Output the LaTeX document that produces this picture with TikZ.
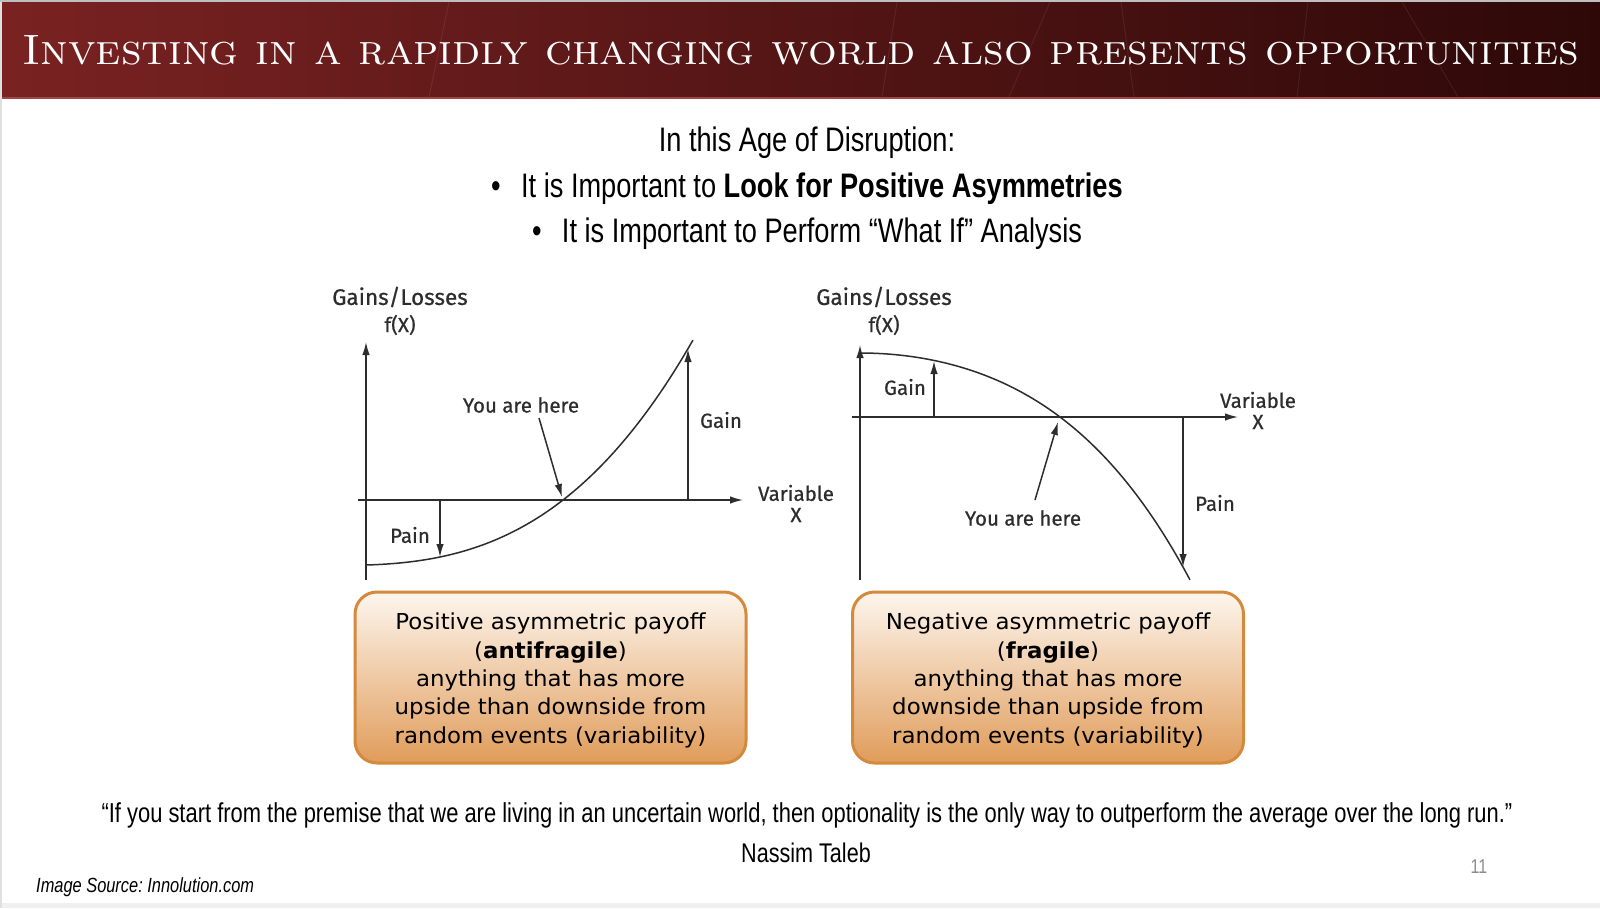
\documentclass[tikz,border=0pt]{standalone}
\usepackage{fontspec}
\usetikzlibrary{arrows.meta}
\newfontfamily\narrowfont[FakeStretch=0.8]{Liberation Sans}
\newfontfamily\chartfont[FakeBold=0.6]{Fira Sans}
\newfontfamily\boxfont[FakeStretch=1.04]{DejaVu Sans}
\definecolor{bandleft}{RGB}{122,34,34}
\definecolor{bandright}{RGB}{46,8,8}
\definecolor{bandedge}{RGB}{160,70,70}
\definecolor{chartgray}{RGB}{45,45,45}
\definecolor{boxtop}{RGB}{253,246,238}
\definecolor{boxbottom}{RGB}{224,156,90}
\definecolor{boxedge}{RGB}{212,138,60}
\tikzset{
  axisline/.style={chartgray, line width=1.5pt},
  tipline/.style={axisline, -{Latex[length=13pt,width=7.5pt]}},
  chartlabel/.style={inner sep=0pt, text=chartgray, font=\chartfont\fontsize{20.5}{22}\selectfont},
  axistitle/.style={chartlabel, font=\chartfont\fontsize{22.5}{24}\selectfont},
  payoffbox/.style={draw=boxedge, line width=3pt, rounded corners=22pt, top color=boxtop, bottom color=boxbottom,
    minimum width=391pt, minimum height=171pt},
  payofftext/.style={align=center, inner sep=0pt, text=black, font=\boxfont\fontsize{22}{28.3}\selectfont},
  headline/.style={inner sep=0pt, anchor=base, font=\narrowfont\fontsize{34}{40}\selectfont},
}
\frenchspacing
\begin{document}
\begin{tikzpicture}[x=1pt, y=-1pt]
    \useasboundingbox (0,0) rectangle (1600,908);
    \fill[white] (0,0) rectangle (1600,908);
    \fill[black!6] (0,903) rectangle (1600,908);
    \fill[black!12] (0,0) rectangle (2,908);

    % Header band
    \shade[left color=bandleft, right color=bandright] (2,2) rectangle (1600,97);
    \fill[black!25] (0,0) rectangle (1600,2);
    \fill[bandedge] (2,97) rectangle (1600,99);
    \foreach \xa/\xb in {449/429, 897/882, 1050/1009, 1121/1134, 1308/1297, 1402/1458} {
        \draw[white, opacity=0.07, line width=1pt] (\xa,2) -- (\xb,97);
    }
    \node[anchor=base west, inner sep=0pt, text=white] (title) at (22,64)
        {\resizebox{1557pt}{29pt}{\scshape Investing in a rapidly changing world also presents opportunities}};

    % Headlines
    \node[headline] (agehead) at (807,151) {In this Age of Disruption:};
    \node[headline] (lookline) at (807,197) {\textbullet\hspace{0.6em}It is Important to \textbf{Look for Positive Asymmetries}};
    \node[headline] (whatifline) at (807,242) {\textbullet\hspace{0.6em}It is Important to Perform “What If” Analysis};

    % Positive asymmetric payoff
    \begin{scope}[shift={(366,500)}]
        \draw[tipline] (0,80) -- (0,-158);
        \draw[tipline] (-8,0) -- (377,0);
        \draw[axisline] plot[domain=0:3.27, samples=80] ({100*\x}, {65 - 2.946*\x - 7.846*\x*\x - 3.76*\x*\x*\x});
        \coordinate (lgainfoot) at (322,0);
        \coordinate (lgaintip) at (322,-151);
        \coordinate (lpainfoot) at (74,0);
        \coordinate (lpaintip) at (74,57);
        \coordinate (lherestart) at (173,-82);
        \coordinate (lheretip) at (196,-3);
        \draw[tipline] (lgainfoot) -- (lgaintip);
        \draw[tipline] (lpainfoot) -- (lpaintip);
        \draw[tipline] (lherestart) -- (lheretip);
        \node[chartlabel] (lhere) at (155,-95) {You are here};
        \node[chartlabel] (lgain) at (355,-80) {Gain};
        \node[chartlabel] (lpain) at (44,35) {Pain};
        \node[chartlabel] (lvar) at (430,-7) {Variable};
        \node[chartlabel] (lx) at (430,15) {X};
        \node[axistitle] (lgl) at (34,-203) {Gains/Losses};
        \node[chartlabel] (lfx) at (34,-175) {f(X)};
    \end{scope}

    % Negative asymmetric payoff
    \begin{scope}[shift={(860,417)}]
        \draw[tipline] (0,163) -- (0,-72);
        \draw[tipline] (-8,0) -- (378,0);
        \draw[axisline] plot[domain=0:3.3, samples=80] ({100*\x}, {-64 + 13.19*\x*\x + 0.702*\x*\x*\x*\x});
        \coordinate (rgainfoot) at (74,0);
        \coordinate (rgaintip) at (74,-56);
        \coordinate (rpainfoot) at (323,0);
        \coordinate (rpaintip) at (323,150);
        \coordinate (rherestart) at (175,83);
        \coordinate (rheretip) at (198,5);
        \draw[tipline] (rgainfoot) -- (rgaintip);
        \draw[tipline] (rpainfoot) -- (rpaintip);
        \draw[tipline] (rherestart) -- (rheretip);
        \node[chartlabel] (rhere) at (163,101) {You are here};
        \node[chartlabel] (rgain) at (45,-30) {Gain};
        \node[chartlabel] (rpain) at (355,86) {Pain};
        \node[chartlabel] (rvar) at (398,-17) {Variable};
        \node[chartlabel] (rx) at (398,5) {X};
        \node[axistitle] (rgl) at (24,-120) {Gains/Losses};
        \node[chartlabel] (rfx) at (24,-92) {f(X)};
    \end{scope}

    % Payoff boxes
    \node[payoffbox] (antibox) at (550.5,677.5) {};
    \node[payofftext] (antitext) at ([yshift=-3pt]antibox.center) {Positive asymmetric payoff\\(\textbf{antifragile})\\anything that has more\\upside than downside from\\random events (variability)};
    \node[payoffbox] (fragbox) at (1048,677.5) {};
    \node[payofftext] (fragtext) at ([yshift=-3pt]fragbox.center) {Negative asymmetric payoff\\(\textbf{fragile})\\anything that has more\\downside than upside from\\random events (variability)};

    % Quote and footer
    \node[inner sep=0pt, anchor=base, font=\narrowfont\fontsize{27.4}{32}\selectfont] (quote) at (807,822)
        {“If you start from the premise that we are living in an uncertain world, then optionality is the only way to outperform the average over the long run.”};
    \node[inner sep=0pt, anchor=base, font=\narrowfont\fontsize{27}{32}\selectfont] (author) at (806,862) {Nassim Taleb};
    \node[inner sep=0pt, anchor=base west, font=\narrowfont\itshape\fontsize{20.5}{24}\selectfont] (source) at (36,892) {Image Source: Innolution.com};
    \node[inner sep=0pt, anchor=base, text=black!45, font=\narrowfont\fontsize{20}{22}\selectfont] (pagenum) at (1479,873) {11};
\end{tikzpicture}
\end{document}
